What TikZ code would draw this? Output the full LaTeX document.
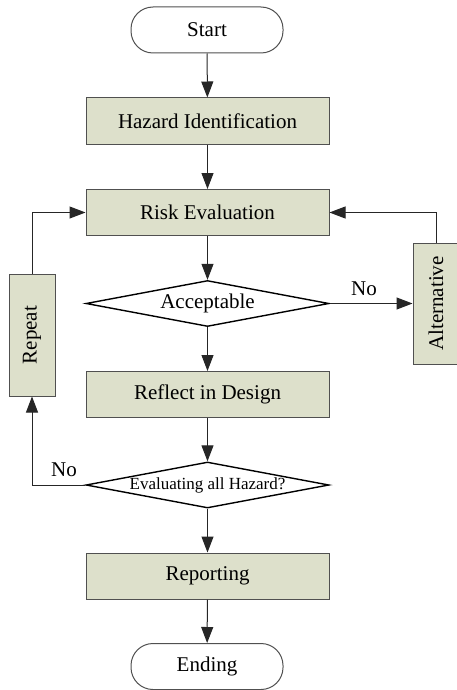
\documentclass[tikz,border=0pt]{standalone}
\usepackage{fontspec}
\setmainfont{Liberation Serif}
\usetikzlibrary{arrows.meta,shapes.geometric}
\definecolor{boxfill}{HTML}{DDE0CB}
\definecolor{boxline}{HTML}{505050}
\tikzset{
  x=1pt,y=1pt,
  every node/.style={font=\fontsize{21}{24}\selectfont},
  procbox/.style={draw=boxline,line width=1pt,fill=boxfill,minimum width=243pt,minimum height=46pt,inner sep=0pt},
  sidebox/.style={draw=boxline,line width=1pt,fill=boxfill,minimum width=46pt,inner sep=0pt},
  termbox/.style={draw=boxline,line width=1pt,rounded corners=22pt,minimum width=152pt,minimum height=46pt,inner sep=0pt},
  decbox/.style={draw=black,line width=1.4pt,diamond,minimum width=243pt,minimum height=46pt,inner sep=0pt},
  arr/.style={draw=black!85,line width=1pt,-{Triangle[width=12pt,length=16pt]}},
  plain/.style={draw=black!85,line width=1pt}
}
\begin{document}
\begin{tikzpicture}
\useasboundingbox (0,0) rectangle (456,-690);
\node[termbox] (start) at (207,-30) {Start};
\node[procbox] (haz) at (207.5,-121) {Hazard Identification};
\node[procbox] (risk) at (207.5,-212.5) {Risk Evaluation};
\node[decbox] (acc) at (207.5,-303.5) {};
\node (acctext) at (acc) {Acceptable};
\node[procbox] (refl) at (207.5,-394.5) {Reflect in Design};
\node[decbox] (eva) at (207.5,-485) {};
\node[font=\fontsize{17}{20}\selectfont] (evatext) at (eva) {Evaluating all Hazard?};
\node[procbox] (rpt) at (207.5,-576) {Reporting};
\node[termbox] (end) at (207,-666.5) {Ending};
\node[sidebox,minimum height=122pt] (repbox) at (32,-335) {\rotatebox{90}{Repeat}};
\node[sidebox,minimum height=121pt] (altbox) at (436,-303.5) {\rotatebox{90}{Alternative}};

\draw[arr] (start) -- (haz);
\draw[arr] (haz) -- (risk);
\draw[arr] (risk) -- (acc);
\draw[arr] (acc) -- (refl);
\draw[arr] (refl) -- (eva);
\draw[arr] (eva) -- (rpt);
\draw[arr] (rpt) -- (end);
\draw[arr] (acc.east) -- (altbox.west);
\draw[arr] (eva.west) -| (repbox.south);
\draw[arr] (repbox.north) |- (risk.west);
\draw[arr] (altbox.north) |- (risk.east);
\node (no1) at (364,-289) {No};
\node (no2) at (64,-470) {No};
\end{tikzpicture}
\end{document}
